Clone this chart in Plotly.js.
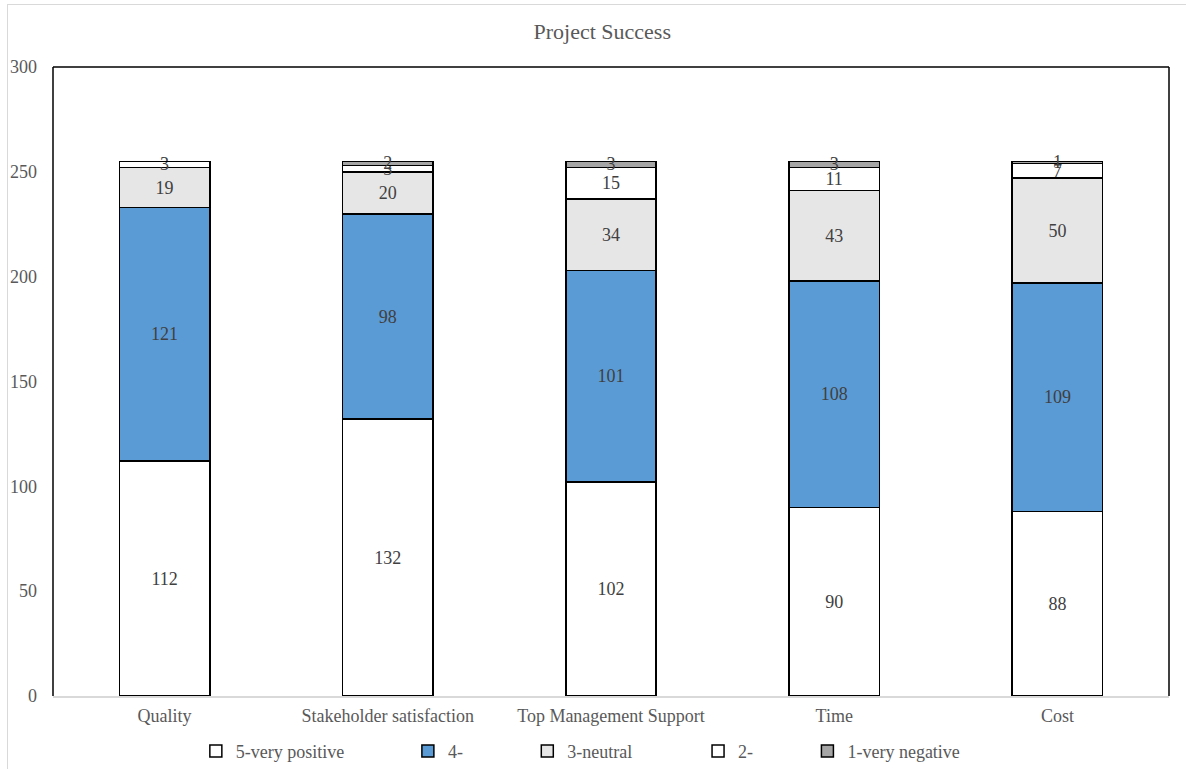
<!DOCTYPE html>
<html>
<head>
<meta charset="utf-8">
<script src="https://cdn.plot.ly/plotly-3.0.1.min.js"></script>
<style>
  html, body { margin: 0; padding: 0; background: #fff; }
  #chart {
    position: absolute; left: 7px; top: 4px;
    width: 1179px; height: 765px;
    border-left: 1px solid #D9D9D9; border-top: 1px solid #D9D9D9;
  }
</style>
</head>
<body>
<div id="chart"></div>
<script>
// Survey responses per success dimension
const categories = ["Quality", "Stakeholder satisfaction", "Top Management Support", "Time", "Cost"];
const veryPositive = [112, 132, 102, 90, 88];
const positive     = [121, 98, 101, 108, 109];
const neutral      = [19, 20, 34, 43, 50];
const negative     = [3, 3, 15, 11, 7];
const veryNegative = [0, 2, 3, 3, 1];
const seriesNames  = ["5-very positive", "4-", "3-neutral", "2-", "1-very negative"];
const seriesColors = ["#FFFFFF", "#5B9BD5", "#E7E6E6", "#FFFFFF", "#A5A5A5"];
const yTicks = [0, 50, 100, 150, 200, 250, 300];

const FONT = "Liberation Serif";
const seriesValues = [veryPositive, positive, neutral, negative, veryNegative];
// horizontal placement of each legend entry (paper fraction)
const legendX = [0.128, 0.318, 0.425, 0.578, 0.676];
const legendIds = ["legend", "legend2", "legend3", "legend4", "legend5"];

const traces = seriesValues.map((vals, i) => ({
  type: "bar",
  name: seriesNames[i],
  legend: legendIds[i],
  x: categories,
  y: vals,
  text: vals.map(String),
  textposition: "inside",
  insidetextanchor: "middle",
  constraintext: "none",
  textangle: 0,
  textfont: { family: FONT, size: 18, color: "#404040" },
  marker: { color: seriesColors[i], line: { color: "#000000", width: 1.5 } },
  hoverinfo: "x+y+name"
}));

const frame = { color: "#000000", width: 1.5 };
const layout = {
  barmode: "stack",
  bargap: 0.595,
  width: 1179,
  height: 765,
  margin: { l: 45, r: 18, t: 62, b: 74, autoexpand: false },
  paper_bgcolor: "#FFFFFF",
  plot_bgcolor: "#FFFFFF",
  font: { family: FONT, size: 18, color: "#595959" },
  uniformtext: { mode: "show", minsize: 18 },
  title: {
    text: "Project Success",
    font: { family: FONT, size: 22, color: "#595959" },
    x: 0.504, xanchor: "center", y: 0.966, yanchor: "middle"
  },
  xaxis: {
    showline: true, linecolor: "#D9D9D9", linewidth: 1.5,
    showgrid: false, ticks: "", zeroline: false,
    ticklabelstandoff: 3,
    tickfont: { family: FONT, size: 18, color: "#595959" }
  },
  yaxis: {
    range: [0, 300], tickvals: yTicks, ticktext: yTicks.map(String),
    showgrid: false, zeroline: false, showline: false, ticks: "",
    ticklabelstandoff: 15,
    tickfont: { family: FONT, size: 18, color: "#595959" }
  },
  shapes: [
    { type: "line", xref: "paper", yref: "paper", x0: 0, x1: 0, y0: 0, y1: 1, line: frame },
    { type: "line", xref: "paper", yref: "paper", x0: 0, x1: 1, y0: 1, y1: 1, line: frame },
    { type: "line", xref: "paper", yref: "paper", x0: 1, x1: 1, y0: 0, y1: 1, line: frame }
  ],
  showlegend: true
};
legendIds.forEach((id, i) => {
  layout[id] = {
    orientation: "h",
    x: legendX[i], xanchor: "left",
    y: -0.088, yanchor: "middle",
    bgcolor: "rgba(0,0,0,0)",
    font: { family: FONT, size: 18, color: "#595959" }
  };
});

Plotly.newPlot("chart", traces, layout, { displayModeBar: false });
</script>
</body>
</html>
